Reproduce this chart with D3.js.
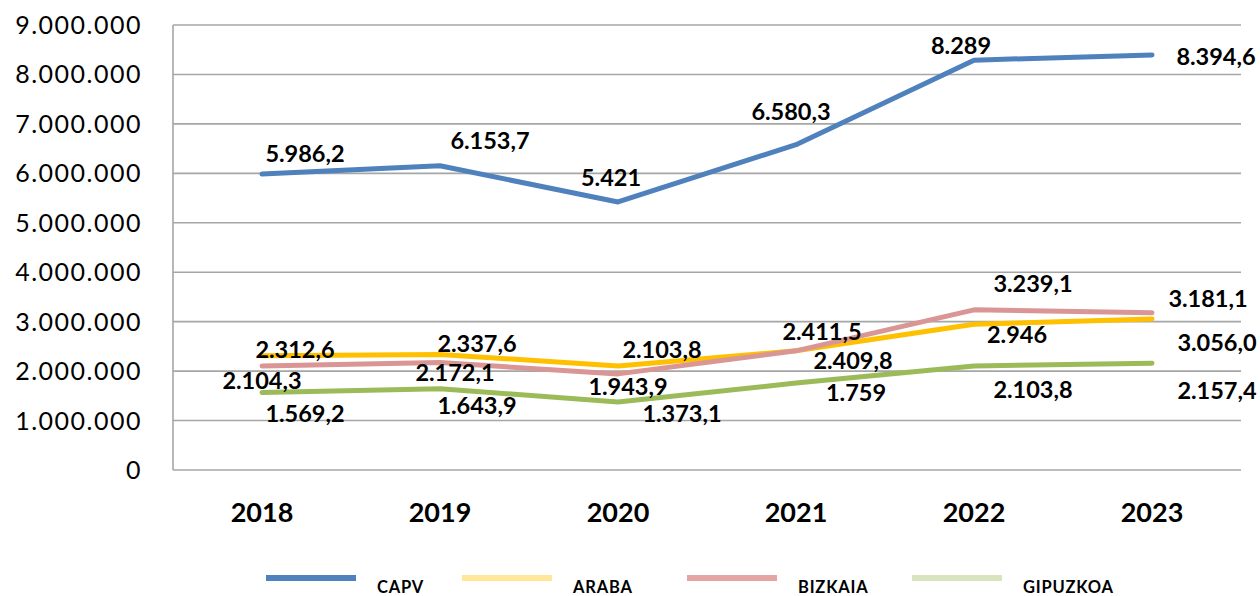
<!DOCTYPE html>
<html>
<head>
<meta charset="utf-8">
<script src="https://cdn.jsdelivr.net/npm/d3@7"></script>
<style>
  body { margin: 0; background: #fff; }
  svg { display: block; font-family: Lato, "Open Sans", sans-serif; }
</style>
</head>
<body>
<svg id="chart" width="1260" height="596"></svg>
<script>
// data (values in euros, labels as printed in thousands)
const years = ["2018", "2019", "2020", "2021", "2022", "2023"];
const seriesNames = ["CAPV", "ARABA", "BIZKAIA", "GIPUZKOA"];

const capv = [5986200, 6153700, 5421000, 6580300, 8289000, 8394600];
const araba = [2312600, 2337600, 2103800, 2411500, 2946000, 3056000];
const bizkaia = [2104300, 2172100, 1943900, 2409800, 3239100, 3181100];
const gipuzkoa = [1569200, 1643900, 1373100, 1759000, 2103800, 2157400];

const capvLabels = ["5.986,2", "6.153,7", "5.421", "6.580,3", "8.289", "8.394,6"];
const arabaLabels = ["2.312,6", "2.337,6", "2.103,8", "2.411,5", "2.946", "3.056,0"];
const bizkaiaLabels = ["2.104,3", "2.172,1", "1.943,9", "2.409,8", "3.239,1", "3.181,1"];
const gipuzkoaLabels = ["1.569,2", "1.643,9", "1.373,1", "1.759", "2.103,8", "2.157,4"];

const yTicks = [0, 1e6, 2e6, 3e6, 4e6, 5e6, 6e6, 7e6, 8e6, 9e6];

// styling / layout
const lineColors = ["#4f81bd", "#ffc000", "#d99694", "#9bbb59"];
const legendColors = ["#4f81bd", "#ffe699", "#e6a5a5", "#d7e4bd"];
const legendX = [266, 462, 687, 912];

// label offsets from each point (centre of text), placed like the original
const labelOffsets = [
  [[43, -20], [50, -25], [-7, -24], [-5, -33], [-13, -15], [64, 2]],
  [[33, -6], [37, -11], [44, -16], [26, -19], [43, 10], [65, 24]],
  [[0, 15], [15, 10], [10, 13], [57, 10], [59, -26], [56, -14]],
  [[43, 21], [37, 17], [64, 11], [60, 10], [59, 24], [65, 27]],
];

const series = [capv, araba, bizkaia, gipuzkoa].map((values, i) => ({
  name: seriesNames[i],
  values: values,
  labels: [capvLabels, arabaLabels, bizkaiaLabels, gipuzkoaLabels][i],
  color: lineColors[i],
  offsets: labelOffsets[i],
}));

const svg = d3.select("#chart");
const plotLeft = 173, plotRight = 1241, plotTop = 25, plotBottom = 470;

const x = d3.scalePoint().domain(years).range([plotLeft, plotRight]).padding(0.5);
const y = d3.scaleLinear().domain([0, 9e6]).range([plotBottom, plotTop]);

const locale = d3.formatLocale({ decimal: ",", thousands: ".", grouping: [3], currency: ["", "€"] });
const fmt = locale.format(",.0f");

// gridlines
svg.append("g")
  .selectAll("line")
  .data(yTicks)
  .join("line")
  .attr("x1", plotLeft)
  .attr("x2", plotRight)
  .attr("y1", (d) => y(d))
  .attr("y2", (d) => y(d))
  .attr("stroke", "#a6a6a6")
  .attr("stroke-width", 1.6);

// left axis line
svg.append("line")
  .attr("x1", plotLeft).attr("x2", plotLeft)
  .attr("y1", plotTop).attr("y2", plotBottom)
  .attr("stroke", "#a6a6a6")
  .attr("stroke-width", 1.6);

// y tick labels
svg.append("g")
  .selectAll("text")
  .data(yTicks)
  .join("text")
  .attr("x", 142)
  .attr("y", (d) => y(d))
  .attr("dy", "0.36em")
  .attr("text-anchor", "end")
  .attr("font-size", 25)
  .attr("letter-spacing", 1.5)
  .attr("fill", "#000")
  .text((d) => fmt(d));

// x labels
svg.append("g")
  .selectAll("text")
  .data(years)
  .join("text")
  .attr("x", (d) => x(d))
  .attr("y", 522)
  .attr("text-anchor", "middle")
  .attr("font-size", 27)
  .attr("font-weight", "bold")
  .attr("fill", "#000")
  .text((d) => d);

// lines
const line = d3.line()
  .x((d, i) => x(years[i]))
  .y((d) => y(d));

svg.append("g")
  .selectAll("path")
  .data(series)
  .join("path")
  .attr("d", (s) => line(s.values))
  .attr("fill", "none")
  .attr("stroke", (s) => s.color)
  .attr("stroke-width", 5)
  .attr("stroke-linecap", "round")
  .attr("stroke-linejoin", "round");

// data labels
series.forEach((s) => {
  svg.append("g")
    .selectAll("text")
    .data(s.values)
    .join("text")
    .attr("x", (d, i) => x(years[i]) + s.offsets[i][0])
    .attr("y", (d, i) => y(d) + s.offsets[i][1])
    .attr("dy", "0.36em")
    .attr("text-anchor", "middle")
    .attr("font-size", 23.5)
    .attr("font-weight", "bold")
    .attr("fill", "#000")
    .text((d, i) => s.labels[i]);
});

// legend
const legend = svg.append("g")
  .selectAll("g")
  .data(seriesNames)
  .join("g")
  .attr("transform", (d, i) => `translate(${legendX[i]},0)`);

legend.append("line")
  .attr("x1", 0).attr("x2", 90)
  .attr("y1", 578).attr("y2", 578)
  .attr("stroke", (d, i) => legendColors[i])
  .attr("stroke-width", 6);

legend.append("text")
  .attr("x", 111)
  .attr("y", 593)
  .attr("font-size", 16.5)
  .attr("font-weight", "bold")
  .attr("letter-spacing", 0.8)
  .attr("fill", "#000")
  .text((d) => d);
</script>
</body>
</html>
